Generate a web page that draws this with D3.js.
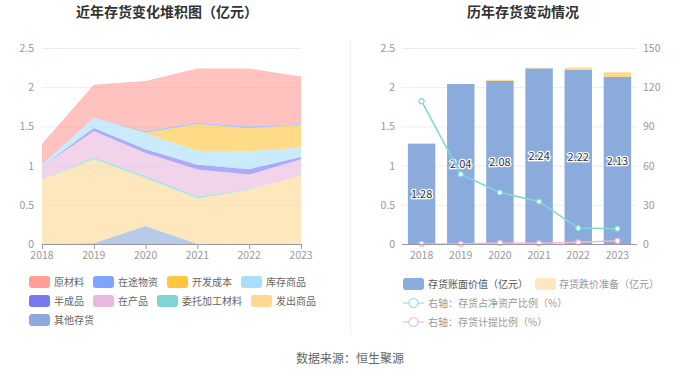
<!DOCTYPE html>
<html>
<head>
<meta charset="utf-8">
<script src="https://cdn.jsdelivr.net/npm/d3@7"></script>
<style>
  body { margin: 0; background: #fff; }
  svg { font-family: "Noto Sans CJK SC", "Noto Sans", sans-serif; }
</style>
</head>
<body>
<svg width="700" height="377"></svg>
<script>
var years = ["2018", "2019", "2020", "2021", "2022", "2023"];

// stacked area series, legend order
var seriesNames = ["原材料", "在途物资", "开发成本", "库存商品", "半成品", "在产品", "委托加工材料", "发出商品", "其他存货"];
var rawMaterial = [0.26, 0.42, 0.64, 0.69, 0.74, 0.60];
var inTransit   = [0.01, 0.00, 0.02, 0.02, 0.025, 0.015];
var devCost     = [0.00, 0.00, 0.01, 0.34, 0.29, 0.29];
var goodsStock  = [0.02, 0.13, 0.20, 0.18, 0.23, 0.12];
var semiGoods   = [0.00, 0.04, 0.05, 0.06, 0.07, 0.03];
var wip         = [0.17, 0.33, 0.29, 0.34, 0.19, 0.21];
var consigned   = [0.00, 0.03, 0.03, 0.03, 0.005, 0.00];
var shipped     = [0.82, 1.07, 0.61, 0.58, 0.69, 0.87];
var other       = [0.00, 0.01, 0.23, 0.00, 0.00, 0.00];
var seriesColors = ["#ff9d96", "#80a4fb", "#ffc53d", "#a8dffa", "#7878f2", "#e9b8dd", "#80d4d5", "#ffd894", "#8caadc"];

// right chart
var bookValue = [1.28, 2.04, 2.08, 2.24, 2.22, 2.13];
var provision = [0.00, 0.00, 0.015, 0.01, 0.03, 0.06];
var ratioNetAssets = [109.3, 53.4, 39.4, 32.5, 12.2, 11.7];
var provisionRatio = [0.0, 0.0, 0.8, 0.5, 1.3, 2.5];
var leftTicks = [0, 0.5, 1, 1.5, 2, 2.5];
var rightTicks = [0, 30, 60, 90, 120, 150];

var svg = d3.select("svg");
var top0 = 48, bottom0 = 244;

// titles
svg.append("text").attr("x", 167).attr("y", 17).attr("text-anchor", "middle")
  .attr("font-size", 14).attr("font-weight", "bold").attr("fill", "#333").text("近年存货变化堆积图（亿元）");
svg.append("text").attr("x", 523).attr("y", 17).attr("text-anchor", "middle")
  .attr("font-size", 14).attr("font-weight", "bold").attr("fill", "#333").text("历年存货变动情况");

// divider
svg.append("line").attr("x1", 350.5).attr("x2", 350.5).attr("y1", 40).attr("y2", 335)
  .attr("stroke", "#f0f0f0");

// ---------- left chart ----------
var xL = d3.scalePoint().domain(years).range([42, 301]);
var yL = d3.scaleLinear().domain([0, 2.5]).range([bottom0, top0]);

var gl = svg.append("g");
gl.selectAll(".grid").data(leftTicks.slice(1)).enter().append("line")
  .attr("x1", 42).attr("x2", 301)
  .attr("y1", function(d) { return yL(d) + 0.5; }).attr("y2", function(d) { return yL(d) + 0.5; })
  .attr("stroke", "#e8edf6");

var seriesData = [rawMaterial, inTransit, devCost, goodsStock, semiGoods, wip, consigned, shipped, other];
var rows = years.map(function(y, i) {
  var r = { year: y };
  seriesNames.forEach(function(n, k) { r[n] = seriesData[k][i]; });
  return r;
});
// first in stack (bottom) is 其他存货
var stack = d3.stack().keys(seriesNames.slice().reverse());
var layers = stack(rows);
var area = d3.area()
  .x(function(d) { return xL(d.data.year); })
  .y0(function(d) { return yL(d[0]); })
  .y1(function(d) { return yL(d[1]); });

gl.selectAll(".layer").data(layers).enter().append("path")
  .attr("d", area)
  .attr("fill", function(d) { return seriesColors[seriesNames.indexOf(d.key)]; })
  .attr("fill-opacity", 0.62);

gl.append("line").attr("x1", 42).attr("x2", 301).attr("y1", bottom0 + 0.5).attr("y2", bottom0 + 0.5)
  .attr("stroke", "#999");
gl.selectAll(".xl").data(years).enter().append("text")
  .attr("x", function(d) { return xL(d); }).attr("y", 259)
  .attr("text-anchor", "middle").attr("font-size", 10.5).attr("fill", "#999").text(function(d) { return d; });
gl.selectAll(".xt").data(years).enter().append("line")
  .attr("x1", function(d) { return xL(d) + 0.5; }).attr("x2", function(d) { return xL(d) + 0.5; })
  .attr("y1", bottom0).attr("y2", bottom0 + 5).attr("stroke", "#999");
gl.selectAll(".yl").data(leftTicks).enter().append("text")
  .attr("x", 34).attr("y", function(d) { return yL(d) + 4; })
  .attr("text-anchor", "end").attr("font-size", 10.5).attr("fill", "#999").text(function(d) { return d; });

// left legend (flow layout)
var lx = 29, ly = 282, maxX = 340;
seriesNames.forEach(function(n, k) {
  var g = svg.append("g");
  var t = g.append("text").attr("font-size", 10).attr("fill", "#666").text(n);
  var w = t.node().getComputedTextLength();
  if (lx + 25 + w > maxX) { lx = 29; ly += 19; }
  g.append("rect").attr("x", lx).attr("y", ly - 6).attr("width", 21).attr("height", 12).attr("rx", 3)
    .attr("fill", seriesColors[k]);
  t.attr("x", lx + 25).attr("y", ly + 4);
  lx += 25 + w + 9;
});

// ---------- right chart ----------
var xR = d3.scaleBand().domain(years).range([402, 637]).paddingInner(0.3).paddingOuter(0.15);
var yR = d3.scaleLinear().domain([0, 2.5]).range([bottom0, top0]);
var yR2 = d3.scaleLinear().domain([0, 150]).range([bottom0, top0]);

var gr = svg.append("g");
gr.selectAll(".grid").data(leftTicks.slice(1)).enter().append("line")
  .attr("x1", 402).attr("x2", 637)
  .attr("y1", function(d) { return yR(d) + 0.5; }).attr("y2", function(d) { return yR(d) + 0.5; })
  .attr("stroke", "#e8edf6");

gr.selectAll(".bar").data(bookValue).enter().append("rect")
  .attr("x", function(d, i) { return xR(years[i]); })
  .attr("width", xR.bandwidth())
  .attr("y", function(d) { return yR(d); })
  .attr("height", function(d) { return yR(0) - yR(d); })
  .attr("fill", "#8aabdb");
gr.selectAll(".prov").data(provision).enter().append("rect")
  .attr("x", function(d, i) { return xR(years[i]); })
  .attr("width", xR.bandwidth())
  .attr("y", function(d, i) { return yR(bookValue[i] + d); })
  .attr("height", function(d, i) { return yR(bookValue[i]) - yR(bookValue[i] + d); })
  .attr("fill", "#fdd98f");

gr.selectAll(".blab").data(bookValue).enter().append("text")
  .attr("x", function(d, i) { return xR(years[i]) + xR.bandwidth() / 2; })
  .attr("y", function(d) { return yR(d / 2) + 4; })
  .attr("text-anchor", "middle").attr("font-size", 11).attr("fill", "#333")
  .attr("stroke", "#fff").attr("stroke-width", 2.5).attr("paint-order", "stroke")
  .text(function(d) { return d.toFixed(2); });

var xc = function(i) { return xR(years[i]) + xR.bandwidth() / 2; };
var line = d3.line().x(function(d, i) { return xc(i); }).y(function(d) { return yR2(d); });

gr.append("path").datum(ratioNetAssets).attr("d", line).attr("fill", "none")
  .attr("stroke", "#7dd8d8").attr("stroke-width", 1.5);
gr.selectAll(".p1").data(ratioNetAssets).enter().append("circle")
  .attr("cx", function(d, i) { return xc(i); }).attr("cy", function(d) { return yR2(d); })
  .attr("r", 2.5).attr("fill", "#fff").attr("stroke", "#7dd8d8").attr("stroke-width", 1.2);

gr.append("path").datum(provisionRatio).attr("d", line).attr("fill", "none")
  .attr("stroke", "#f2b5d8").attr("stroke-width", 1.5);
gr.selectAll(".p2").data(provisionRatio).enter().append("circle")
  .attr("cx", function(d, i) { return xc(i); }).attr("cy", function(d) { return yR2(d); })
  .attr("r", 2.5).attr("fill", "#fff").attr("stroke", "#f2b5d8").attr("stroke-width", 1.2);

gr.append("line").attr("x1", 402).attr("x2", 637).attr("y1", bottom0 + 0.5).attr("y2", bottom0 + 0.5)
  .attr("stroke", "#999");
gr.selectAll(".xl").data(years).enter().append("text")
  .attr("x", function(d) { return xR(d) + xR.bandwidth() / 2; }).attr("y", 259)
  .attr("text-anchor", "middle").attr("font-size", 10.5).attr("fill", "#999").text(function(d) { return d; });
gr.selectAll(".yl").data(leftTicks).enter().append("text")
  .attr("x", 395).attr("y", function(d) { return yR(d) + 4; })
  .attr("text-anchor", "end").attr("font-size", 10.5).attr("fill", "#999").text(function(d) { return d; });
gr.selectAll(".yr").data(rightTicks).enter().append("text")
  .attr("x", 643).attr("y", function(d) { return yR2(d) + 4; })
  .attr("text-anchor", "start").attr("font-size", 10.5).attr("fill", "#999").text(function(d) { return d; });

// right legend
var rl = svg.append("g");
rl.append("rect").attr("x", 403).attr("y", 278).attr("width", 21).attr("height", 12).attr("rx", 3).attr("fill", "#8aabdb");
rl.append("text").attr("x", 428).attr("y", 288).attr("font-size", 10).attr("fill", "#555").text("存货账面价值（亿元）");
rl.append("rect").attr("x", 535).attr("y", 278).attr("width", 21).attr("height", 12).attr("rx", 3).attr("fill", "#fde6c0");
rl.append("text").attr("x", 559).attr("y", 288).attr("font-size", 10).attr("fill", "#999").text("存货跌价准备（亿元）");

[["右轴：存货占净资产比例（%）", "#a8e4e4", 303], ["右轴：存货计提比例（%）", "#f5c8e0", 322]].forEach(function(it) {
  rl.append("line").attr("x1", 403).attr("x2", 424).attr("y1", it[2]).attr("y2", it[2]).attr("stroke", it[1]).attr("stroke-width", 1.5);
  rl.append("circle").attr("cx", 413.5).attr("cy", it[2]).attr("r", 4.5).attr("fill", "#fff").attr("stroke", it[1]).attr("stroke-width", 1.5);
  rl.append("text").attr("x", 428).attr("y", it[2] + 4).attr("font-size", 10).attr("fill", "#999").text(it[0]);
});

// footer
svg.append("text").attr("x", 350).attr("y", 363).attr("text-anchor", "middle")
  .attr("font-size", 12).attr("fill", "#666").text("数据来源：恒生聚源");
</script>
</body>
</html>
